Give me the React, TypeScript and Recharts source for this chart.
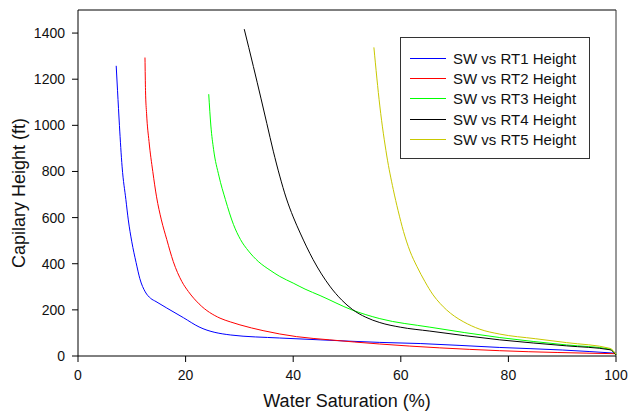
import React from "react";
import { LineChart, Line, XAxis, YAxis, Legend, ReferenceLine } from "recharts";

// water saturation (%) vs capillary height (ft)
const rt1Sw = [7.1, 7.35, 7.7, 8.2, 8.9, 9.35, 10.0, 10.8, 11.5, 12.5, 13.5, 14.5, 16.5, 19.6, 22.5, 28.4, 37.5, 45, 56.1, 63.6, 78.4, 90, 100];
const rt1Height = [1258, 1150, 1000, 820, 678, 590, 495, 405, 335, 278, 250, 236, 208, 166, 126, 91, 78, 70, 59, 54, 37, 26, 12];

const rt2Sw = [12.45, 12.55, 12.75, 13.2, 13.9, 14.6, 15.5, 16.5, 17.7, 19.3, 20.5, 22.5, 26.4, 28.3, 30.1, 34.4, 40.6, 46.8, 56.1, 78.4, 100];
const rt2Height = [1294, 1150, 1050, 930, 800, 690, 590, 505, 410, 323, 280, 226, 164, 148, 135, 110, 84, 70, 52, 23, 10];

const rt3Sw = [24.3, 24.7, 25.2, 26.2, 27.4, 28.9, 30.2, 31.7, 33.5, 35.7, 37.5, 40, 42.2, 45, 50.9, 56.1, 65.4, 78.4, 90.8, 98.9, 100];
const rt3Height = [1135, 997, 896, 780, 678, 570, 505, 455, 410, 372, 345, 316, 290, 262, 200, 162, 125, 80, 48, 30, 5];

const rt4Sw = [30.9, 32.6, 34.0, 35.1, 36.3, 37.5, 38.7, 40, 41.3, 43.7, 46.8, 49, 51, 53.5, 56.1, 59.9, 65.4, 78.4, 90.8, 98.9, 100];
const rt4Height = [1417, 1255, 1118, 1008, 888, 780, 685, 603, 533, 418, 303, 243, 202, 168, 145, 125, 108, 70, 44, 27, 5];

const rt5Sw = [55, 56.1, 57.4, 58.6, 59.5, 60.5, 61.7, 63, 64.5, 66, 67.3, 68.5, 70, 71.6, 74.7, 78.4, 85, 90.8, 98.9, 100];
const rt5Height = [1338, 1084, 867, 722, 630, 540, 455, 388, 322, 265, 228, 200, 172, 149, 116, 95, 75, 58, 33, 8];

const seriesNames = ["SW vs RT1 Height", "SW vs RT2 Height", "SW vs RT3 Height", "SW vs RT4 Height", "SW vs RT5 Height"];
const seriesColors = ["#0000ff", "#ff0000", "#00ff00", "#000000", "#c8c800"];

const xTicks = [0, 20, 40, 60, 80, 100];
const yTicks = [0, 200, 400, 600, 800, 1000, 1200, 1400];

const font = "'Liberation Sans', Arial, sans-serif";

const toPoints = (sw: number[], h: number[]) => sw.map((s, i) => ({ sw: s, height: h[i] }));

const series = [
  toPoints(rt1Sw, rt1Height),
  toPoints(rt2Sw, rt2Height),
  toPoints(rt3Sw, rt3Height),
  toPoints(rt4Sw, rt4Height),
  toPoints(rt5Sw, rt5Height),
];

function LegendBox() {
  return (
    <div
      style={{
        width: 188,
        height: 110,
        border: "1px solid #333",
        background: "#fff",
        paddingTop: 10,
        boxSizing: "content-box",
        fontFamily: font,
        fontSize: 15,
        color: "#111",
      }}
    >
      {seriesNames.map((name, i) => (
        <div key={name} style={{ display: "flex", alignItems: "center", height: 20.4 }}>
          <div style={{ marginLeft: 9, width: 36, borderTop: `1px solid ${seriesColors[i]}` }} />
          <span style={{ marginLeft: 7, whiteSpace: "nowrap" }}>{name}</span>
        </div>
      ))}
    </div>
  );
}

export default function App() {
  return (
    <div style={{ position: "absolute", left: 0, top: 0, background: "#fff" }}>
      <LineChart width={628} height={413} margin={{ top: 10, right: 12, left: 0, bottom: 0 }}>
        <XAxis
          dataKey="sw"
          type="number"
          domain={[0, 100]}
          ticks={xTicks}
          allowDuplicatedCategory={false}
          height={57}
          stroke="#000"
          tickSize={6}
          tickMargin={8}
          tick={{ fill: "#111", fontSize: 14, fontFamily: font }}
          label={(props: any) => {
            const vb = props.viewBox;
            return (
              <text
                x={vb.x + vb.width / 2}
                y={407}
                textAnchor="middle"
                fill="#111"
                fontSize={18}
                fontFamily={font}
              >
                Water Saturation (%)
              </text>
            );
          }}
        />
        <YAxis
          type="number"
          domain={[0, 1500]}
          ticks={yTicks}
          width={78}
          stroke="#000"
          tickSize={6}
          tickMargin={7}
          tick={{ fill: "#111", fontSize: 14, fontFamily: font }}
          label={() => (
            <text
              x={25}
              y={193}
              transform="rotate(-90 25 193)"
              textAnchor="middle"
              fill="#111"
              fontSize={18}
              fontFamily={font}
            >
              Capilary Height (ft)
            </text>
          )}
        />
        <ReferenceLine y={1500} stroke="#000" />
        <ReferenceLine x={100} stroke="#333" />
        {series.map((data, i) => (
          <Line
            key={seriesNames[i]}
            data={data}
            dataKey="height"
            name={seriesNames[i]}
            type="monotone"
            stroke={seriesColors[i]}
            strokeWidth={1}
            dot={false}
            activeDot={false}
            isAnimationActive={false}
          />
        ))}
        <Legend
          layout="vertical"
          align="center"
          verticalAlign="middle"
          content={() => <LegendBox />}
          wrapperStyle={{ left: 400, top: 37, width: 190, height: 122 }}
        />
      </LineChart>
    </div>
  );
}
